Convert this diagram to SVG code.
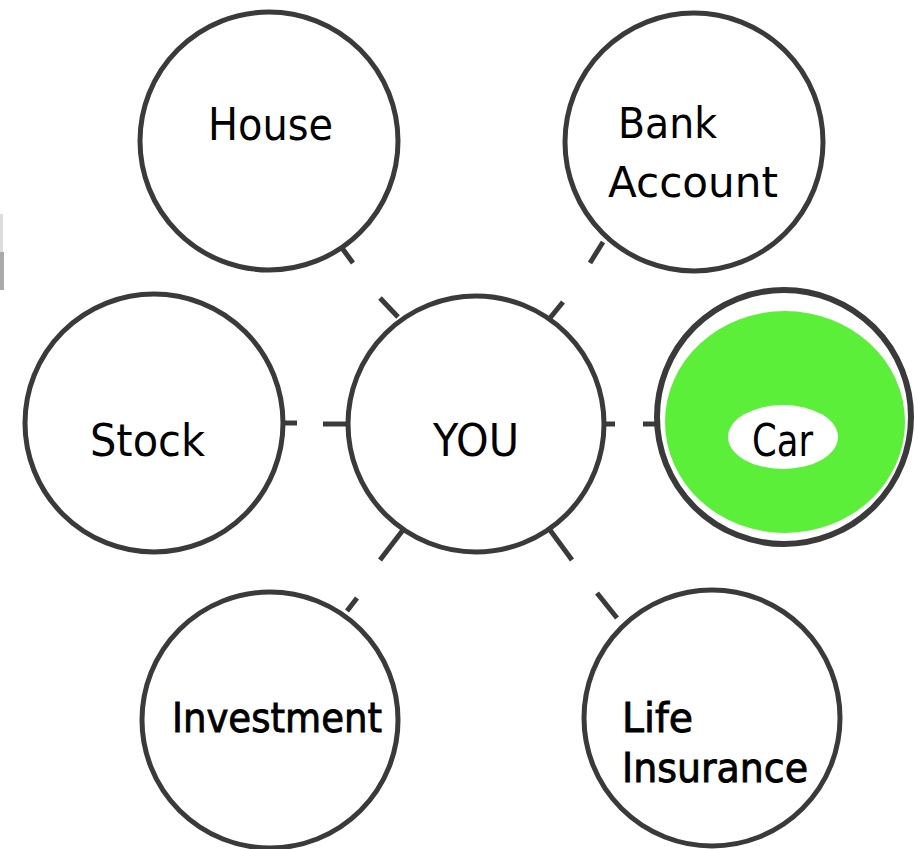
<svg xmlns="http://www.w3.org/2000/svg" width="918" height="849" viewBox="0 0 918 849">
<style>
.ring{fill:#fff;stroke:#3a3a3a;stroke-width:5}
.tick{stroke:#3a3a3a;stroke-width:5;stroke-linecap:butt;fill:none}
.lbl{font-family:"DejaVu Sans","Liberation Sans",sans-serif;fill:#000}
.lb{font-family:"DejaVu Sans","Liberation Sans",sans-serif;fill:#000;stroke:#000;stroke-width:0.9}
</style>
<rect x="0" y="0" width="918" height="849" fill="#fff"/>
<rect x="0" y="214" width="3" height="38" fill="#ddd"/>
<rect x="0" y="252" width="4" height="38" fill="#aaa"/>
<g id="connectors">
<line class="tick" x1="342" y1="248" x2="353" y2="263"/>
<line class="tick" x1="603" y1="242" x2="590" y2="263"/>
<line class="tick" x1="380" y1="298" x2="398" y2="317"/>
<line class="tick" x1="563" y1="302" x2="550" y2="318"/>
<line class="tick" x1="283" y1="423" x2="297" y2="423"/>
<line class="tick" x1="323" y1="424" x2="348" y2="424"/>
<line class="tick" x1="603" y1="424" x2="615" y2="424"/>
<line class="tick" x1="643" y1="424" x2="659" y2="424"/>
<line class="tick" x1="403" y1="530" x2="380" y2="560"/>
<line class="tick" x1="550" y1="530" x2="572" y2="560"/>
<line class="tick" x1="347" y1="611" x2="357" y2="598"/>
<line class="tick" x1="597" y1="593" x2="617" y2="618"/>
</g>
<g id="house">
<circle class="ring" cx="269" cy="141" r="129"/>
<text class="lbl" x="208" y="140" font-size="45" textLength="125" lengthAdjust="spacingAndGlyphs">House</text>
</g>
<g id="bank">
<circle class="ring" cx="694" cy="142" r="129"/>
<text class="lbl" x="618" y="138" font-size="43" textLength="99" lengthAdjust="spacingAndGlyphs">Bank</text>
<text class="lbl" x="608" y="197" font-size="43" textLength="170" lengthAdjust="spacingAndGlyphs">Account</text>
</g>
<g id="stock">
<circle class="ring" cx="154" cy="423" r="129"/>
<text class="lbl" x="90" y="456" font-size="45" textLength="115" lengthAdjust="spacingAndGlyphs">Stock</text>
</g>
<g id="you">
<circle class="ring" cx="476" cy="424" r="128"/>
<text class="lbl" x="433" y="456" font-size="45" textLength="86" lengthAdjust="spacingAndGlyphs">YOU</text>
</g>
<g id="car">
<circle cx="784" cy="417" r="127" fill="#fff" stroke="#3a3a3a" stroke-width="6"/>
<ellipse cx="785" cy="422" rx="120" ry="111" fill="#5cef3a"/>
<ellipse cx="783" cy="437" rx="55" ry="32" fill="#fff"/>
<text class="lbl" x="752" y="456" font-size="45" textLength="61" lengthAdjust="spacingAndGlyphs">Car</text>
</g>
<g id="investment">
<circle class="ring" cx="270" cy="720" r="128"/>
<text class="lb" x="172" y="732" font-size="41" textLength="210" lengthAdjust="spacingAndGlyphs">Investment</text>
</g>
<g id="life">
<circle class="ring" cx="712" cy="718" r="128"/>
<text class="lb" x="622" y="732" font-size="41" textLength="71" lengthAdjust="spacingAndGlyphs">Life</text>
<text class="lb" x="622" y="782" font-size="41" textLength="186" lengthAdjust="spacingAndGlyphs">Insurance</text>
</g>
</svg>
